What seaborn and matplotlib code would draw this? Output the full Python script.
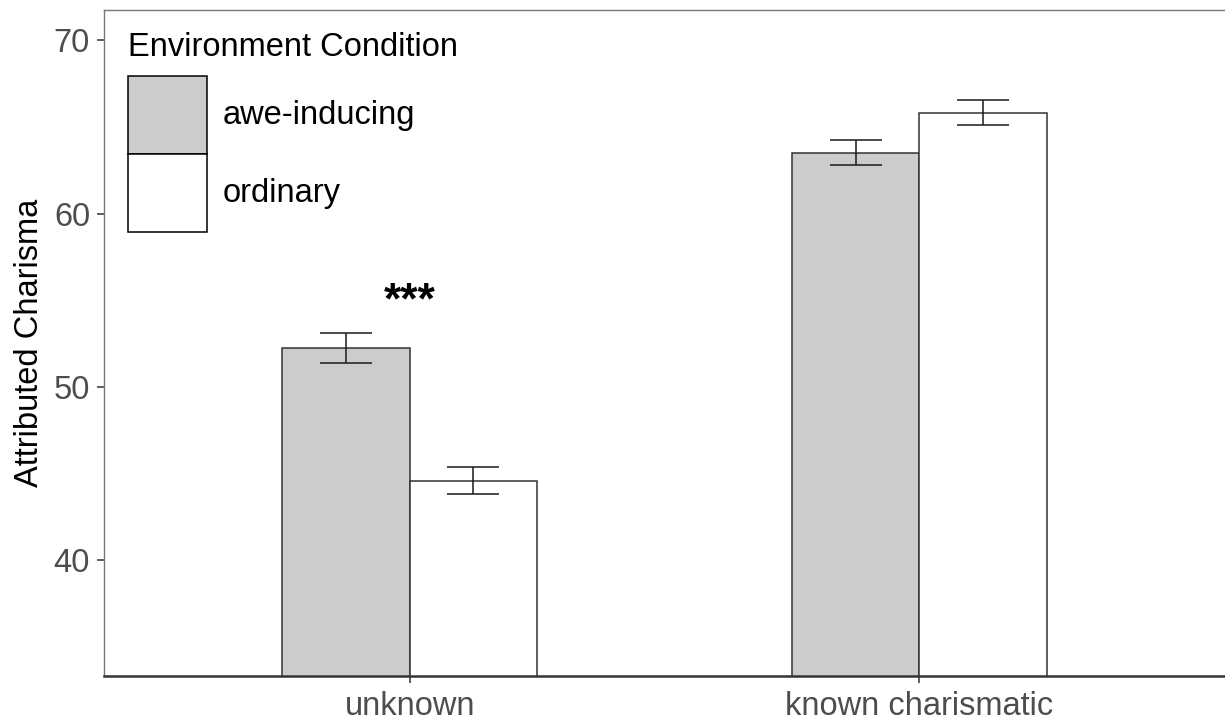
import matplotlib
matplotlib.use("Agg")
import matplotlib.pyplot as plt
import seaborn as sns
import pandas as pd

# Data
identities = ["unknown", "known charismatic"]
conditions = ["awe-inducing", "ordinary"]
means_awe = [52.25, 63.52]
means_ordinary = [44.58, 65.82]
se_awe = [0.86, 0.72]
se_ordinary = [0.80, 0.72]
y_ticks = [40, 50, 60, 70]
significance = ["***", ""]

df = pd.DataFrame({
    "Identity": identities * 2,
    "Condition": [conditions[0]] * 2 + [conditions[1]] * 2,
    "Charisma": means_awe + means_ordinary,
    "SE": se_awe + se_ordinary,
})

sns.set_theme(style="white")
plt.rcParams["font.family"] = ["Liberation Sans", "DejaVu Sans"]

FS = 23.5

fig = plt.figure(figsize=(12.25, 7.24), dpi=100)
ax = fig.add_axes([0.0849, 0.0663, 0.9151, 0.9199])

palette = {"awe-inducing": "#CCCCCC", "ordinary": "#FFFFFF"}
sns.barplot(data=df, x="Identity", y="Charisma", hue="Condition",
            order=identities, hue_order=conditions, palette=palette,
            width=0.5, gap=0, edgecolor="#333333", linewidth=1.1,
            errorbar=None, saturation=1, ax=ax)

# Error bars at the centre of each drawn bar
for cont, cond in zip(ax.containers, conditions):
    sub = df[df["Condition"] == cond].set_index("Identity").loc[identities]
    for patch, m, se in zip(cont.patches, sub["Charisma"], sub["SE"]):
        cx = patch.get_x() + patch.get_width() / 2
        ax.errorbar(cx, m, yerr=se, fmt="none", ecolor="#1a1a1a",
                    elinewidth=1.1, capsize=18.4, capthick=1.1, zorder=5)

# Significance marker over the first group
for i, s in enumerate(significance):
    if s:
        top = max(means_awe[i] + se_awe[i], means_ordinary[i] + se_ordinary[i])
        ax.text(i, top + 1.8, s, ha="center", va="center", fontsize=32,
                fontweight="bold", color="black")

ax.set_xlim(-0.6, 1.6)
ax.set_ylim(33.3, 71.75)
ax.set_yticks(y_ticks)
ax.set_xlabel("")
ax.set_ylabel("Attributed Charisma", fontsize=FS, color="black", labelpad=6)
ax.tick_params(axis="both", which="both", length=5, width=1.1, color="#333333",
               labelsize=FS, labelcolor="#4D4D4D", left=True, bottom=True)
ax.tick_params(axis="y", pad=5)
ax.tick_params(axis="x", pad=6)

for side in ["top", "left"]:
    ax.spines[side].set_color("#777777")
    ax.spines[side].set_linewidth(1.0)
ax.spines["right"].set_visible(False)
ax.spines["bottom"].set_color("#333333")
ax.spines["bottom"].set_linewidth(1.8)

leg = ax.legend(title="Environment Condition", loc="upper left",
                bbox_to_anchor=(0.0098, 0.9865), frameon=False, fontsize=FS,
                title_fontsize=FS, handlelength=2.42, handleheight=3.3,
                labelspacing=0.0, handletextpad=0.48, borderaxespad=0.0)
leg._legend_box.align = "left"
leg._legend_box.sep = 9.4
for t in leg.get_texts():
    t.set_color("black")
leg.get_title().set_color("black")
for h in leg.legend_handles:
    h.set_edgecolor("black")
    h.set_linewidth(1.1)

fig.savefig("out.png", dpi=100)
